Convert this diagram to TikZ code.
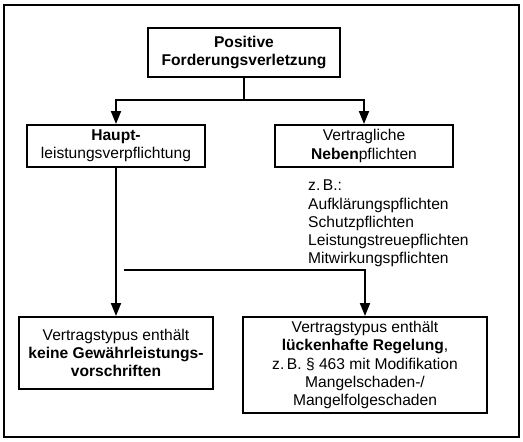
\documentclass[tikz,border=0pt]{standalone}
\usepackage{fontspec}
\setmainfont{Liberation Sans}
\usetikzlibrary{arrows.meta}
\begin{document}
\begin{tikzpicture}[x=1pt,y=-1pt,
  font=\fontsize{15.6}{18.2}\selectfont,
  box/.style={draw, line width=2pt, inner sep=0pt, align=center, minimum width=#1},
  conn/.style={line width=2pt},
  arr/.style={conn, -{Triangle[width=10pt,length=13pt]}}]
\useasboundingbox (0,0) rectangle (523,442);
\fill[white] (0,0) rectangle (523,442);
\draw[line width=2pt] (4,5) rectangle (519,437);
\node[box=192pt, minimum height=49pt] (pfv) at (244,52.5) {\textbf{Positive}\\\textbf{Forderungsverletzung}};
\node[box=178pt, minimum height=42pt] (haupt) at (116,146) {\textbf{Haupt-}\\leistungsverpflichtung};
\node[box=178pt, minimum height=42pt] (neben) at (364,146) {Vertragliche\\\textbf{Neben}pflichten};
\node[box=194pt, minimum height=72pt] (keine) at (116,353) {Vertragstypus enthält\\\textbf{keine Gewährleistungs-}\\\textbf{vorschriften}};
\node[box=244pt, minimum height=96pt] (lueck) at (365,365) {Vertragstypus enthält\\\textbf{lückenhafte Regelung},\\z.\,B. § 463 mit Modifikation\\Mangelschaden-/\\Mangelfolgeschaden};
\node[anchor=north west, inner sep=0pt, align=left] (bsp) at (308,180) {z.\,B.:\\Aufklärungspflichten\\Schutzpflichten\\Leistungstreuepflichten\\Mitwirkungspflichten};
\coordinate (split) at (244,100);
\coordinate (free) at (124,270);
\draw[conn] (pfv.south) -- (split);
\draw[arr] (split) -| (haupt.north);
\draw[arr] (split) -| (neben.north);
\draw[arr] (haupt.south) -- (keine.north);
\draw[arr] (free) -| (lueck.north);
\end{tikzpicture}
\end{document}
